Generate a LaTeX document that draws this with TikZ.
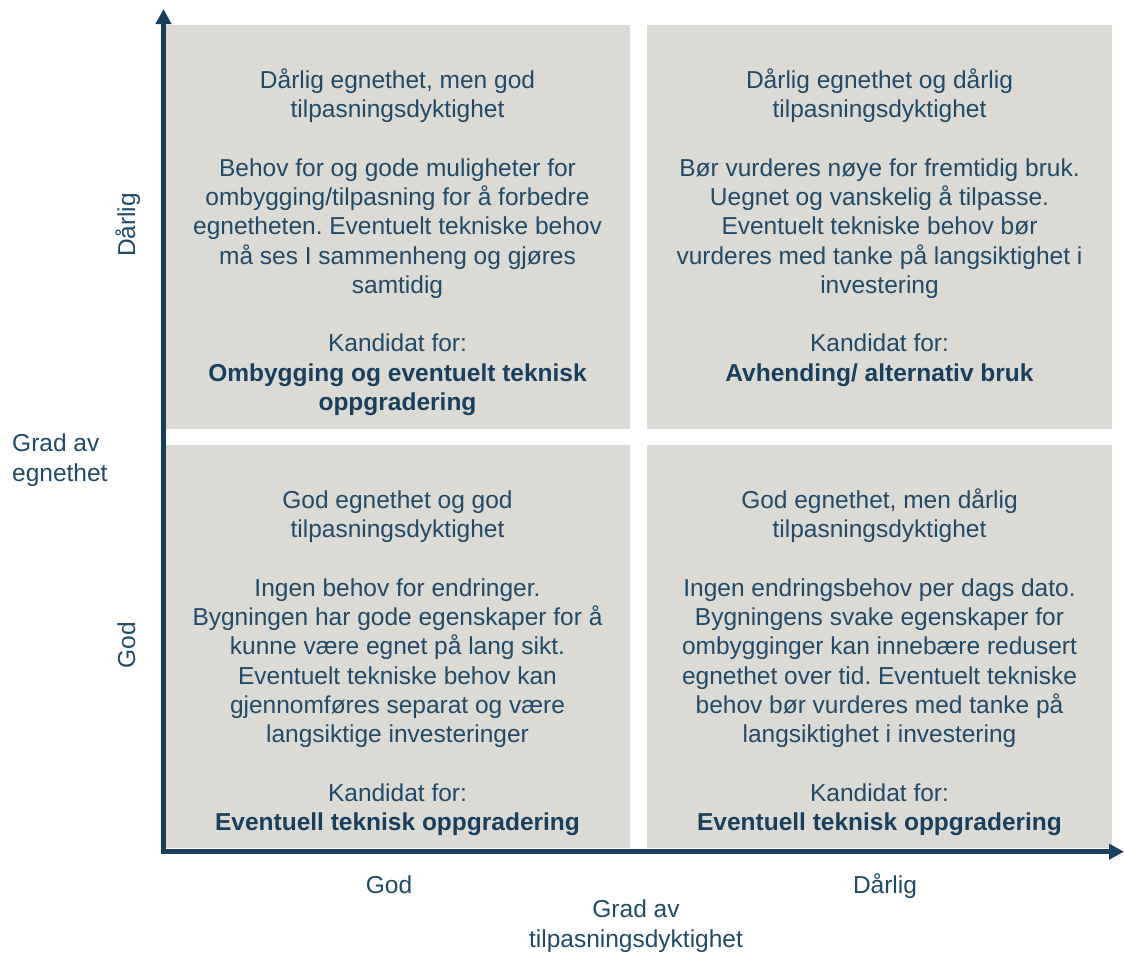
\documentclass[tikz,border=0pt]{standalone}
\usepackage{fontspec}
\setmainfont{Liberation Sans}
\usetikzlibrary{arrows.meta}
\frenchspacing

\definecolor{quadfill}{HTML}{DBDAD4}
\definecolor{inktext}{HTML}{214A68}
\definecolor{inkdark}{HTML}{183F5E}

\begin{document}
\begin{tikzpicture}[x=1pt,y=-1pt,
  quad/.style={draw=none,fill=quadfill,inner sep=0pt,anchor=north west},
  % multi-line nodes are anchored at the baseline of their last line
  quadtext/.style={anchor=base,align=center,inner sep=0pt,text=inktext,
    font=\fontsize{24.5}{29.3}\selectfont},
  axislabel/.style={anchor=base,inner sep=0pt,text=inktext,
    font=\fontsize{24.5}{29.3}\selectfont},
  axisline/.style={draw=inkdark,line width=4.5pt,
    -{Triangle[length=15pt,width=15pt]}}
]
\useasboundingbox (0,0) rectangle (1124,953);

% quadrants
\node[quad,minimum width=465pt,minimum height=404pt] (tl) at (165,25) {};
\node[quad,minimum width=465pt,minimum height=404pt] (tr) at (647,25) {};
\node[quad,minimum width=465pt,minimum height=403pt] (bl) at (165,445) {};
\node[quad,minimum width=465pt,minimum height=403pt] (br) at (647,445) {};

% axes
\coordinate (origin) at (163.5,851.7);
\coordinate (ytip) at (163.5,9);
\coordinate (xtip) at (1124,851.7);
\draw[axisline] ([yshift=-2.25pt]origin) -- (ytip);
\draw[axisline] ([xshift=-2.25pt]origin) -- (xtip);

% quadrant texts
\node[quadtext] (tltext) at (397.5,410.5) {Dårlig egnethet, men god\\tilpasningsdyktighet\\[29.3pt]
  Behov for og gode muligheter for\\ombygging/tilpasning for å forbedre\\egnetheten. Eventuelt tekniske behov\\må ses I sammenheng og gjøres\\samtidig\\[29.3pt]
  Kandidat for:\\{\bfseries\color{inkdark}Ombygging og eventuelt teknisk}\\{\bfseries\color{inkdark}oppgradering}};

\node[quadtext] (trtext) at (879.5,381.2) {Dårlig egnethet og dårlig\\tilpasningsdyktighet\\[29.3pt]
  Bør vurderes nøye for fremtidig bruk.\\Uegnet og vanskelig å tilpasse.\\Eventuelt tekniske behov bør\\vurderes med tanke på langsiktighet i\\investering\\[29.3pt]
  Kandidat for:\\{\bfseries\color{inkdark}Avhending/ alternativ bruk}};

\node[quadtext] (bltext) at (397.5,830.5) {God egnethet og god\\tilpasningsdyktighet\\[29.3pt]
  Ingen behov for endringer.\\Bygningen har gode egenskaper for å\\kunne være egnet på lang sikt.\\Eventuelt tekniske behov kan\\gjennomføres separat og være\\langsiktige investeringer\\[29.3pt]
  Kandidat for:\\{\bfseries\color{inkdark}Eventuell teknisk oppgradering}};

\node[quadtext] (brtext) at (879.5,830.5) {God egnethet, men dårlig\\tilpasningsdyktighet\\[29.3pt]
  Ingen endringsbehov per dags dato.\\Bygningens svake egenskaper for\\ombygginger kan innebære redusert\\egnethet over tid. Eventuelt tekniske\\behov bør vurderes med tanke på\\langsiktighet i investering\\[29.3pt]
  Kandidat for:\\{\bfseries\color{inkdark}Eventuell teknisk oppgradering}};

% axis labels
\node[axislabel,rotate=90] (ybad) at (135,225) {Dårlig};
\node[axislabel,rotate=90] (ygood) at (135,645) {God};
\node[axislabel,anchor=base west,align=left] (ytitle) at (12,481) {Grad av\\egnethet};
\node[axislabel] (xgood) at (389,893) {God};
\node[axislabel] (xbad) at (885,893) {Dårlig};
\node[axislabel,align=center] (xtitle) at (636,947) {Grad av\\tilpasningsdyktighet};
\end{tikzpicture}
\end{document}
